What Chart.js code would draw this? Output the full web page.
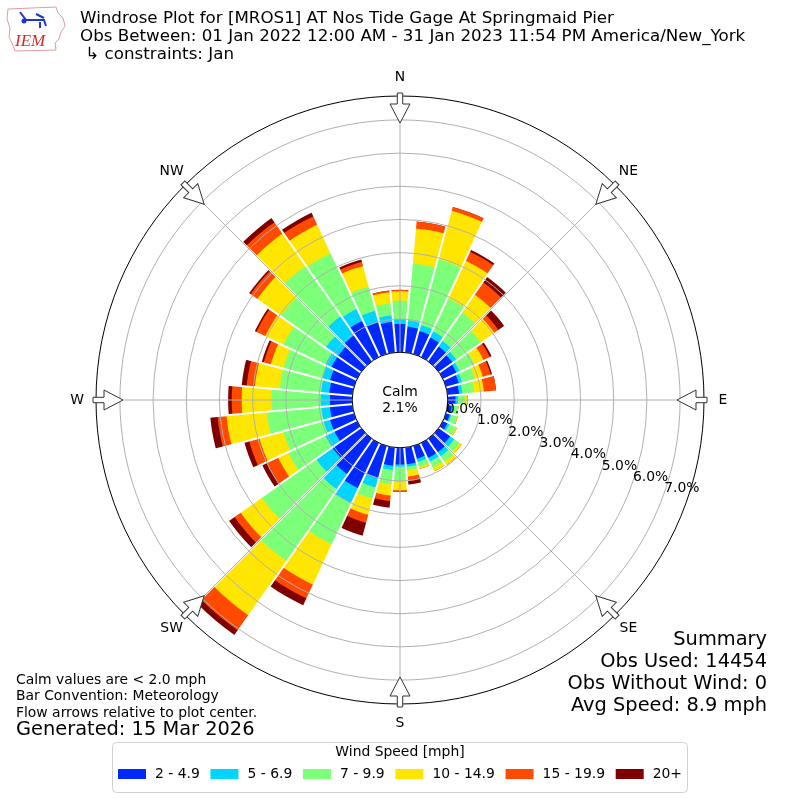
<!DOCTYPE html>
<html>
<head>
<meta charset="utf-8">
<title>Windrose MROS1</title>
<script src="https://cdn.jsdelivr.net/npm/chart.js@4.4.1/dist/chart.umd.min.js"></script>
<style>
  html, body { margin: 0; padding: 0; background: #fff; }
  #rose { display: block; }
</style>
</head>
<body>
<canvas id="rose" width="800" height="800"></canvas>
<script>
// direction the wind blows from, every 10 degrees
const directions = [0, 10, 20, 30, 40, 50, 60, 70, 80, 90, 100, 110, 120, 130, 140, 150, 160, 170,
                    180, 190, 200, 210, 220, 230, 240, 250, 260, 270, 280, 290, 300, 310, 320, 330, 340, 350];
const speedBins = ["2 - 4.9", "5 - 6.9", "7 - 9.9", "10 - 14.9", "15 - 19.9", "20+"];
const speedColors = ["#0028ff", "#00d4ff", "#7cff79", "#ffe600", "#ff4a00", "#7f0000"];

// percent of all obs, per direction, one list per speed bin
const pct2to5 = [.85, .78, .72, .65, .55, .50, .45, .40, .35, .23, .13, .12, .15, .42, .50, .50, .40, .50,
                 .50, .55, 1.00, 1.50, 1.30, 1.05, .75, .75, .68, .67, .70, .75, .85, .85, .95, 1.20, 1.00, .92];
const pct5to7 = [.15, .19, .18, .20, .20, .15, .10, .10, .10, .08, .05, .05, .07, .16, .15, .12, .10, .08,
                 .07, .13, .30, .50, .55, .60, .30, .20, .26, .28, .25, .25, .20, .45, .70, .40, .35, .20];
const pct7to10 = [.55, 1.72, 2.05, 1.10, 1.05, .90, .50, .40, .35, .20, .14, .18, .21, .19, .20, .20, .15, .10,
                  .45, .42, .35, 1.37, 2.65, 2.01, 1.23, 1.25, 1.65, 1.48, 1.25, 1.20, 1.40, 1.65, 1.85, 1.85, .75, .36];
const pct10to15 = [.29, 1.06, 1.52, 1.25, .65, .50, .30, .25, .30, .09, .01, .02, .04, .08, .12, .12, .07, .20,
                   .26, .35, .50, 1.34, 2.00, .78, .34, .75, 1.22, .90, .75, .40, .60, .88, 1.20, .95, .65, .34];
const pct15to20 = [.04, .21, .12, .30, .45, .15, .21, .25, .37, 0, 0, 0, 0, 0, 0, 0, 0, .14,
                   .05, .17, .25, .46, .55, .23, .38, .32, .27, .30, .25, .22, .30, .25, .42, .28, .13, .05];
const pct20up = [0, 0, 0, .06, .20, .21, .06, .04, 0, 0, 0, 0, 0, 0, 0, 0, 0, .10,
                 0, .20, .40, .23, .17, .20, .15, .15, .22, .11, .15, .06, .05, .05, .15, .12, .07, 0];

const calmPct = 2.1;
const tickValues = [0, 1, 2, 3, 4, 5, 6, 7];
const compassLabels = ["N", "NE", "E", "SE", "S", "SW", "W", "NW"];

const titleLines = [
    "Windrose Plot for [MROS1] AT Nos Tide Gage At Springmaid Pier",
    "Obs Between: 01 Jan 2022 12:00 AM - 31 Jan 2023 11:54 PM America/New_York",
    " \u21b3 constraints: Jan"
];
const summaryLines = ["Summary", "Obs Used: 14454", "Obs Without Wind: 0", "Avg Speed: 8.9 mph"];
const noteLines = ["Calm values are < 2.0 mph", "Bar Convention: Meteorology", "Flow arrows relative to plot center."];
const generatedText = "Generated: 15 Mar 2026";

const rMin = -1.44;
const rMax = 7.72;
const FONT = "'DejaVu Sans', sans-serif";

// stack the bins: each dataset holds the running total so the smaller ones sit on top
const bins = [pct2to5, pct5to7, pct7to10, pct10to15, pct15to20, pct20up];
const stacked = [];
let running = directions.map(() => 0);
bins.forEach(b => {
    running = running.map((v, i) => Math.round((v + b[i]) * 1000) / 1000);
    stacked.push(running);
});

// north bar is split in two halves so every bar is centred on its direction
const wrap = arr => arr.concat([arr[0]]);
const sliceAngles = directions.map((d, i) => i === 0 ? 5 : 10).concat([5]);

const datasets = stacked.map((vals, k) => ({
    label: speedBins[k],
    data: wrap(vals),
    backgroundColor: speedColors[k],
    borderWidth: 0,
    angle: c => sliceAngles[c.dataIndex]
}));

function drawLogo(ctx) {
    ctx.save();
    ctx.strokeStyle = "#e49a9a";
    ctx.lineWidth = 1;
    const pts = [[8, 9], [56, 7], [58, 13], [63, 18], [65, 26], [61, 32], [59, 39], [55, 43], [56, 50],
                 [15, 51], [12, 43], [9, 37], [10, 28], [7, 19]];
    ctx.beginPath();
    pts.forEach((p, i) => i ? ctx.lineTo(p[0], p[1]) : ctx.moveTo(p[0], p[1]));
    ctx.closePath();
    ctx.stroke();
    ctx.strokeStyle = "#1f35d6";
    ctx.fillStyle = "#1f35d6";
    ctx.lineWidth = 2;
    ctx.beginPath();
    ctx.moveTo(20, 12); ctx.lineTo(26, 20); ctx.lineTo(44, 20); ctx.lineTo(46, 26);
    ctx.moveTo(36, 14); ctx.lineTo(44, 18);
    ctx.moveTo(40, 22); ctx.lineTo(40, 28);
    ctx.stroke();
    ctx.beginPath(); ctx.arc(24, 21, 2.5, 0, Math.PI * 2); ctx.fill();
    ctx.font = "italic 17px 'Liberation Serif', serif";
    ctx.fillStyle = "#d42a2a";
    ctx.textAlign = "left";
    ctx.textBaseline = "alphabetic";
    ctx.fillText("IEM", 15, 46);
    ctx.restore();
}

const roseDecor = {
    id: "roseDecor",
    afterDatasetsDraw(chart) {
        // thin white gaps between neighbouring direction bars
        const s = chart.scales.r;
        const ctx = chart.ctx;
        const outer = s.getDistanceFromCenterForValue(Math.max(...stacked[5])) + 4;
        ctx.save();
        ctx.strokeStyle = "#ffffff";
        ctx.lineWidth = 2;
        directions.forEach(d => {
            const a = (d + 5 - 90) * Math.PI / 180;
            ctx.beginPath();
            ctx.moveTo(s.xCenter, s.yCenter);
            ctx.lineTo(s.xCenter + outer * Math.cos(a), s.yCenter + outer * Math.sin(a));
            ctx.stroke();
        });
        ctx.restore();
    },
    afterDraw(chart) {
        const s = chart.scales.r;
        const ctx = chart.ctx;
        const cx = s.xCenter, cy = s.yCenter, R = s.drawingArea;
        ctx.save();

        // calm circle
        const r0 = s.getDistanceFromCenterForValue(0);
        ctx.beginPath();
        ctx.arc(cx, cy, r0, 0, Math.PI * 2);
        ctx.fillStyle = "#fff";
        ctx.fill();
        ctx.strokeStyle = "#000";
        ctx.lineWidth = 1;
        ctx.stroke();
        ctx.fillStyle = "#000";
        ctx.font = "13.9px " + FONT;
        ctx.textAlign = "center";
        ctx.textBaseline = "middle";
        ctx.fillText("Calm", cx, cy - 8);
        ctx.fillText(calmPct.toFixed(1) + "%", cx, cy + 8);

        // radial tick labels along 20 deg below east
        const ta = 20 * Math.PI / 180;
        ctx.textAlign = "left";
        tickValues.forEach(v => {
            const r = s.getDistanceFromCenterForValue(v);
            ctx.fillText(v.toFixed(1) + "%", cx + r * Math.cos(ta) + 1, cy + r * Math.sin(ta) - 7);
        });

        // compass labels and flow arrows
        ctx.textAlign = "center";
        compassLabels.forEach((lab, i) => {
            const p = s.getPointPosition(i, R + 19);
            ctx.fillStyle = "#000";
            ctx.fillText(lab, p.x, p.y);
            const a = s.getIndexAngle(i) - Math.PI / 2;
            ctx.save();
            ctx.translate(cx, cy);
            ctx.rotate(a);
            ctx.beginPath();
            ctx.moveTo(R + 3, -2.7);
            ctx.lineTo(R - 8, -2.7);
            ctx.lineTo(R - 8, -10);
            ctx.lineTo(R - 27, 0);
            ctx.lineTo(R - 8, 10);
            ctx.lineTo(R - 8, 2.7);
            ctx.lineTo(R + 3, 2.7);
            ctx.closePath();
            ctx.fillStyle = "#fff";
            ctx.fill();
            ctx.strokeStyle = "#333";
            ctx.lineWidth = 1;
            ctx.stroke();
            ctx.restore();
        });

        // title block
        ctx.fillStyle = "#000";
        ctx.textAlign = "left";
        ctx.font = "16.7px " + FONT;
        titleLines.forEach((t, i) => ctx.fillText(t, 80, 19 + i * 18));

        // summary block
        ctx.textAlign = "right";
        ctx.font = "19.4px " + FONT;
        summaryLines.forEach((t, i) => ctx.fillText(t, 767, 640 + i * 22));

        // notes
        ctx.textAlign = "left";
        ctx.font = "13.9px " + FONT;
        noteLines.forEach((t, i) => ctx.fillText(t, 16, 680 + i * 16.5));
        ctx.font = "19.4px " + FONT;
        ctx.fillText(generatedText, 16, 730);

        // legend
        ctx.font = "13.9px " + FONT;
        const boxW = 28, boxH = 10, gapText = 9, gapItem = 10.7;
        const widths = speedBins.map(t => boxW + gapText + ctx.measureText(t).width);
        const total = widths.reduce((a, b) => a + b, 0) + gapItem * (speedBins.length - 1);
        ctx.beginPath();
        ctx.roundRect(112.5, 742.5, 575, 50, 4);
        ctx.fillStyle = "rgba(255,255,255,0.8)";
        ctx.fill();
        ctx.strokeStyle = "#d0d0d0";
        ctx.stroke();
        ctx.fillStyle = "#000";
        ctx.textAlign = "center";
        ctx.fillText("Wind Speed [mph]", 400, 752);
        let x = 400 - total / 2;
        ctx.textAlign = "left";
        speedBins.forEach((t, i) => {
            ctx.fillStyle = speedColors[i];
            ctx.fillRect(x, 774 - boxH / 2, boxW, boxH);
            ctx.fillStyle = "#000";
            ctx.fillText(t, x + boxW + gapText, 774);
            x += widths[i] + gapItem;
        });

        drawLogo(ctx);
        ctx.restore();
    }
};

Chart.defaults.font.family = FONT;

new Chart(document.getElementById("rose").getContext("2d"), {
    type: "polarArea",
    data: {
        labels: compassLabels,
        datasets: datasets
    },
    options: {
        responsive: false,
        animation: false,
        events: [],
        layout: { padding: 96 },
        plugins: {
            legend: { display: false },
            tooltip: { enabled: false }
        },
        scales: {
            r: {
                min: rMin,
                max: rMax,
                startAngle: 0,
                afterBuildTicks: sc => {
                    sc.ticks = tickValues.concat([rMax]).map(v => ({ value: v }));
                },
                ticks: { display: false },
                pointLabels: { display: false },
                angleLines: { display: true, color: "#b0b0b0", lineWidth: 1 },
                grid: {
                    z: 1,
                    circular: true,
                    lineWidth: 1,
                    color: c => (c.tick && c.tick.value === rMax) ? "#000000" : "#b0b0b0"
                }
            }
        }
    },
    plugins: [roseDecor]
});
</script>
</body>
</html>
